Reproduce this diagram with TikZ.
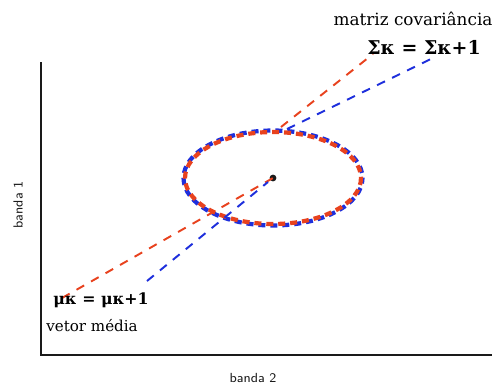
\documentclass[tikz,border=0pt]{standalone}
\usepackage{fontspec}
\usetikzlibrary{positioning,calc}
\newfontfamily\labelfont{DejaVu Serif}
\definecolor{covRed}{HTML}{e8421e}
\definecolor{covBlue}{HTML}{1e2fdc}
\definecolor{covInk}{HTML}{1a1a1a}
\tikzset{
  axis/.style={draw=covInk, line width=1.1pt},
  ringR/.style={draw=covRed, line width=2.4pt, dash pattern=on 4pt off 2.8pt},
  ringB/.style={draw=covBlue, line width=2.4pt, dash pattern=on 4pt off 2.8pt, dash phase=1pt},
  trackR/.style={draw=covRed, line width=1.1pt, dash pattern=on 5pt off 4.5pt},
  trackB/.style={draw=covBlue, line width=1.1pt, dash pattern=on 5pt off 4.5pt},
  lbl/.style={font=\labelfont\fontsize{9.6}{11}\selectfont, inner sep=1pt},
  eqn/.style={font=\labelfont\bfseries\fontsize{10.8}{12}\selectfont, inner sep=1pt},
  axlbl/.style={font=\fontsize{7.5}{9}\sffamily, text=covInk, inner sep=1pt},
}
\begin{document}
\begin{tikzpicture}[x=0.02cm, y=-0.02cm]
        \useasboundingbox (0,0) rectangle (499,387);
        % axes
        \coordinate (top) at (41,62);
        \coordinate (origin) at (41,355);
        \coordinate (right) at (492,355);
        \draw[axis] (top) -- (origin) -- (right);
        \node[axlbl, rotate=90] (band1) at (18,205) {banda 1};
        \node[axlbl] (band2) at (253,378) {banda 2};
        % mean and covariance ellipse
        \coordinate (mean) at (273,178);
        \draw[ringB] (mean) ellipse [x radius=89.5, y radius=47.5];
        \draw[ringR] (mean) ellipse [x radius=88, y radius=46];
        \fill[covInk] (mean) circle [radius=3.4];
        % tracks
        \coordinate (redLow) at (62,298);
        \coordinate (redTop) at (281,127);
        \coordinate (redEnd) at (373,54);
        \coordinate (blueLow) at (147,281);
        \coordinate (blueTop) at (287,129);
        \coordinate (blueEnd) at (437,56);
        \draw[trackR] (redLow) -- (mean);
        \draw[trackR] (redTop) -- (redEnd);
        \draw[trackB] (blueLow) -- ($(mean)+(-5,4)$);
        \draw[trackB] (blueTop) -- (blueEnd);
        % labels
        \node[lbl] (cov) at (413,19) {matriz covariância};
        \node[eqn] (sig) at (424,47) {Σκ = Σκ+1};
        \node[eqn, font=\labelfont\bfseries\fontsize{9}{11}\selectfont] (mu) at (101,300) {μκ = μκ+1};
        \node[lbl, font=\labelfont\fontsize{8.6}{10}\selectfont] (vec) at (92,326) {vetor média};
      \end{tikzpicture}
\end{document}
